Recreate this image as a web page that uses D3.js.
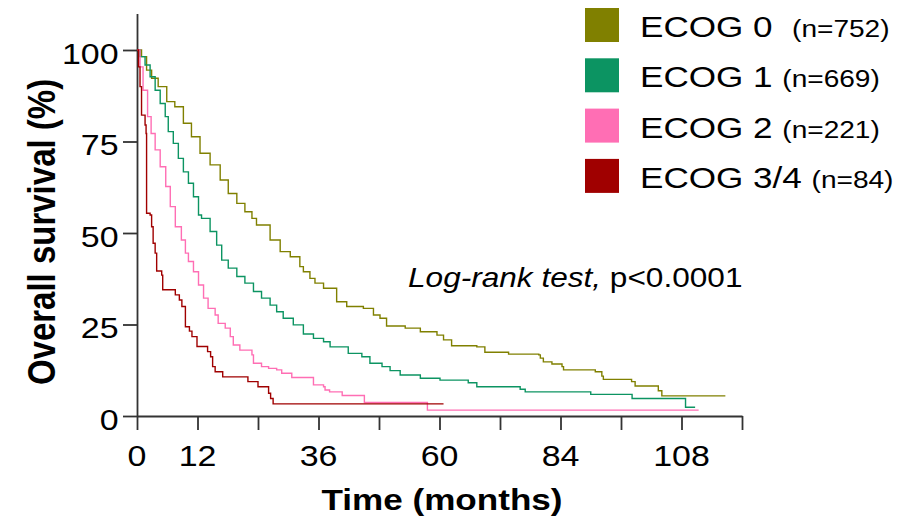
<!DOCTYPE html>
<html>
<head>
<meta charset="utf-8">
<script src="https://cdn.jsdelivr.net/npm/d3@7"></script>
<style>
  body { margin: 0; background: #fff; }
  svg { display: block; font-family: "Liberation Sans", Arial, sans-serif; }
</style>
</head>
<body>
<svg id="chart" width="898" height="522"></svg>
<script>
// axis ticks
const yTicks = [0, 25, 50, 75, 100];
const xTicks = [0, 12, 24, 36, 48, 60, 72, 84, 96, 108, 120];
const xTickLabels = ['0', '12', '', '36', '', '60', '', '84', '', '108', ''];

// groups
const groups = ['ECOG 0', 'ECOG 1', 'ECOG 2', 'ECOG 3/4'];
const groupN = ['(n=752)', '(n=669)', '(n=221)', '(n=84)'];
const colors = ['#808000', '#0c9462', '#ff6eb4', '#a00000'];

// [month, survival %] (value after each drop)
const ecog0 = [[0, 100], [0.9, 98.2], [1.9, 94.5], [2.9, 92.3], [4.2, 90], [5.9, 85.9], [7.5, 84.5],
  [9.2, 80], [10.8, 76.3], [12.5, 71.8], [14.5, 68.6], [16.5, 64.5], [18.1, 60.8], [19.8, 58.1],
  [21.4, 55.8], [22.8, 54], [23.7, 52.2], [26.4, 48.1], [28.4, 44.9], [30.4, 43.5], [32.3, 40.8],
  [33, 39.4], [34.3, 37.6], [35.3, 36.3], [37, 34.9], [39.6, 31.2], [41.6, 29.9], [44.9, 29.4],
  [46.9, 27.6], [48.2, 26.7], [49.5, 24.6], [53.2, 24], [56.2, 23], [59.5, 22.1], [60.8, 20.8],
  [62.4, 19.2], [67.4, 18.9], [69, 17.4], [73.7, 16.9], [79.7, 16.7], [80, 15.8], [80.6, 14.8],
  [82.3, 14.2], [84.3, 13.5], [84.6, 12.6], [90.9, 12.1], [92.2, 10.9], [92.5, 10], [98.1, 9.4],
  [98.8, 8.2], [103.4, 6.9], [104.1, 5.5], [116.7, 5.5]];
const ecog1 = [[0, 100], [0.6, 98.2], [1.6, 95.9], [2.6, 92.7], [3.6, 89], [4.6, 85.4], [5.6, 81.8],
  [6.2, 77.7], [7.2, 74.5], [8.2, 70.4], [9.2, 66.7], [10.2, 63.6], [11.2, 59.9], [12.2, 54.9],
  [12.8, 54], [14.5, 50.4], [15.8, 46.7], [16.8, 42.6], [18.1, 40.4], [19.8, 38.1], [21.4, 36.3],
  [23.1, 34], [24.7, 32.2], [26.4, 30.3], [27.7, 28.5], [29, 26.7], [31, 24.9], [33, 22.4],
  [35, 21.2], [37, 20.3], [38.3, 18.9], [41.9, 17.1], [44.6, 16.2], [46.2, 14.4], [48.6, 13.5],
  [50.2, 12.4], [52.2, 11.2], [56.2, 10.3], [60.1, 9.8], [65.7, 9.1], [67.4, 8], [76, 7.3],
  [77, 6.6], [90, 5.9], [98.2, 4.8], [108.8, 2.4], [110.7, 2.4]];
const ecog2 = [[0, 100], [0.6, 95.4], [1.2, 89], [2.1, 81.8], [2.8, 77.2], [3.6, 72.7], [4.6, 68.1],
  [5.7, 62.7], [6.6, 57.2], [7.6, 51.7], [8.8, 48.1], [9.6, 44.5], [10.2, 42.2], [11.2, 39.4],
  [12.2, 35.8], [13.2, 32.2], [14.1, 29.4], [15.5, 27.6], [16.1, 25.3], [17.5, 24], [18.5, 21.7],
  [19.1, 19.4], [20.4, 18], [22.8, 16.7], [23.1, 14.4], [24.7, 13.5], [26.1, 13], [27.7, 12.6],
  [28.7, 11.7], [30.7, 10.5], [35, 8.5], [37, 8], [37.3, 7.1], [38.2, 6.6], [40.7, 5.6],
  [45.1, 3.7], [57.6, 1.6], [111.4, 1.6]];
const ecog34 = [[0, 100], [0.3, 95.4], [0.6, 90], [0.9, 82.2], [1.6, 79.5], [1.8, 77.2], [1.9, 55.4],
  [2.6, 54.9], [2.9, 51.7], [3.2, 47.2], [3.6, 44.5], [3.9, 39.6], [4.9, 38.5], [5.1, 34.5],
  [7.6, 33.1], [8.4, 31.7], [8.9, 29.9], [9.6, 24.4], [10.4, 23.2], [10.9, 21.7], [11.9, 19],
  [14, 17.6], [14.6, 16.2], [15, 13.5], [15.5, 12.1], [17, 10.7], [22, 9.4], [24, 8], [26.1, 6.2],
  [26.5, 4.8], [27, 3.3], [60.8, 3.3]];
const series = [ecog0, ecog1, ecog2, ecog34];

// the picture is a little wider than tall text would be
const stretch = 1.17;

const svg = d3.select('#chart');
const x = d3.scaleLinear().domain([0, 120]).range([137, 742]);
const y = d3.scaleLinear().domain([0, 110]).range([416, 13.4]);

// axes
svg.append('g')
  .attr('transform', 'translate(0,' + y(0) + ')')
  .call(d3.axisBottom(x).tickValues(xTicks).tickSize(14).tickSizeOuter(0).tickFormat(''));
svg.append('g')
  .attr('transform', 'translate(' + x(0) + ',0)')
  .call(d3.axisLeft(y).tickValues(yTicks).tickSize(14).tickSizeOuter(0).tickFormat(''));
svg.selectAll('.domain, .tick line')
  .attr('stroke', '#333')
  .attr('stroke-width', 1.8);

// tick labels
svg.append('g')
  .selectAll('text')
  .data(yTicks)
  .join('text')
  .attr('transform', d => 'translate(118.5,' + (y(d) + 13.5) + ') scale(' + stretch + ',1)')
  .attr('text-anchor', 'end')
  .style('font-size', '29px')
  .attr('fill', '#000')
  .text(d => d);
svg.append('g')
  .selectAll('text')
  .data(xTicks)
  .join('text')
  .attr('transform', d => 'translate(' + x(d) + ',466) scale(' + stretch + ',1)')
  .attr('text-anchor', 'middle')
  .style('font-size', '29px')
  .attr('fill', '#000')
  .text((d, i) => xTickLabels[i]);

// axis titles
svg.append('text')
  .attr('transform', 'translate(442,510) scale(' + stretch + ',1)')
  .attr('text-anchor', 'middle')
  .style('font-size', '30px')
  .style('font-weight', 'bold')
  .text('Time (months)');
svg.append('text')
  .attr('transform', 'translate(55,232) scale(' + stretch + ',1) rotate(-90)')
  .attr('text-anchor', 'middle')
  .style('font-size', '33px')
  .style('font-weight', 'bold')
  .text('Overall survival (%)');

// survival curves
const line = d3.line()
  .x(d => x(d[0]))
  .y(d => y(d[1]))
  .curve(d3.curveStepAfter);
svg.append('g')
  .selectAll('path')
  .data(series)
  .join('path')
  .attr('d', line)
  .attr('fill', 'none')
  .attr('stroke', (d, i) => colors[i])
  .attr('stroke-width', 1.4);

// log-rank note
const note = svg.append('text')
  .attr('transform', 'translate(408,287) scale(' + stretch + ',1)')
  .style('font-size', '27px')
  .style('white-space', 'pre');
note.append('tspan').style('font-style', 'italic').text('Log-rank test,');
note.append('tspan').text(' p<0.0001');

// legend
const legend = svg.append('g')
  .selectAll('g')
  .data(groups)
  .join('g')
  .attr('transform', (d, i) => 'translate(585,' + (8 + 50.3 * i) + ')');
legend.append('rect')
  .attr('width', 34)
  .attr('height', 34)
  .attr('fill', (d, i) => colors[i]);
const label = legend.append('text')
  .attr('transform', 'translate(55,29) scale(' + stretch + ',1)')
  .style('white-space', 'pre');
label.append('tspan')
  .style('font-size', '30px')
  .text((d, i) => d + (i === 0 ? '  ' : ' '));
label.append('tspan')
  .style('font-size', '24px')
  .text((d, i) => groupN[i]);
</script>
</body>
</html>
